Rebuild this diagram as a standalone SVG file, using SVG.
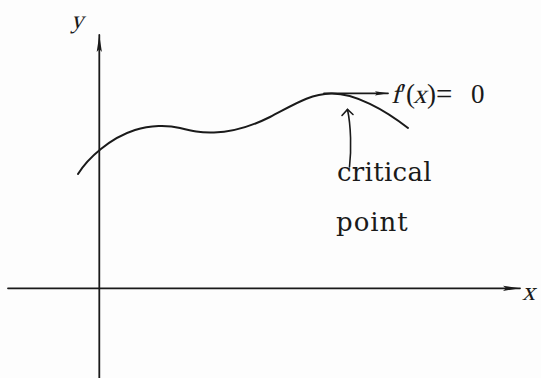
<svg xmlns="http://www.w3.org/2000/svg" width="541" height="378" viewBox="0 0 541 378">
  <defs>
    <style>
      .ln { fill: none; stroke: #1a1a1a; stroke-linecap: round; }
      .ax { stroke-width: 1.8; }
      .cv { stroke-width: 2; }
      text { fill: #1a1a1a; }
    </style>
    <marker id="bigArrow" viewBox="0 0 17 6" refX="17" refY="3" markerWidth="17" markerHeight="6" markerUnits="userSpaceOnUse" orient="auto">
      <path d="M0,0.4 L17,3 L0,5.6 L3,3 Z" fill="#1a1a1a"/>
    </marker>
    <marker id="smallArrow" viewBox="0 0 13 5" refX="13" refY="2.5" markerWidth="13" markerHeight="5" markerUnits="userSpaceOnUse" orient="auto">
      <path d="M0,0.4 L13,2.5 L0,4.6 L2,2.5 Z" fill="#1a1a1a"/>
    </marker>
  </defs>
  <rect width="541" height="378" fill="#fdfdfd"/>

  <g id="axes">
    <line class="ln ax" x1="8" y1="288.3" x2="520" y2="288.3" marker-end="url(#bigArrow)"/>
    <line class="ln ax" x1="99.3" y1="378" x2="99.3" y2="35" marker-end="url(#bigArrow)"/>
    <text font-family="Liberation Serif" font-size="25" transform="translate(71,28) skewX(-14)">y</text>
    <text font-family="Liberation Serif" font-size="26" transform="translate(522,300) skewX(-14)">x</text>
  </g>

  <g id="curve">
    <path class="ln cv" d="M78,174 C88,158 110,138 135,130 C150,125 168,125 180,128 C192,131 200,133 214,132.5 C235,132 252,126 270,117 C295,104 310,94 331,93.5 C355,93 385,110 408,128"/>
  </g>

  <g id="connectors">
    <line class="ln" stroke-width="1.8" x1="324" y1="93.3" x2="388" y2="93.3" marker-end="url(#smallArrow)"/>
    <path class="ln" stroke-width="1.6" d="M349.5,167 C351.5,150 351,126 347.5,109.5"/>
    <polyline class="ln" stroke-width="1.6" points="342,115.5 347.5,109.5 353,114.5"/>
  </g>

  <g id="label-derivative">
    <text font-family="Liberation Serif" font-size="27" transform="translate(391,103) skewX(-14)">f</text>
    <text font-family="Liberation Serif" font-size="27" x="400.5" y="103">′</text>
    <text font-family="Liberation Serif" font-size="27" x="406" y="103">(</text>
    <text font-family="Liberation Serif" font-size="27" transform="translate(413,103) skewX(-14)">x</text>
    <text font-family="Liberation Serif" font-size="27" x="427" y="103">)</text>
    <text font-family="Liberation Serif" font-size="29" x="436" y="104">=</text>
    <text font-family="Liberation Serif" font-size="27" x="471" y="103">0</text>
  </g>

  <g id="label-critical" font-family="DejaVu Serif, serif">
    <text font-size="26" x="337" y="181" letter-spacing="0.3">critical</text>
    <text font-size="26" x="336" y="231" letter-spacing="1">point</text>
  </g>
</svg>
